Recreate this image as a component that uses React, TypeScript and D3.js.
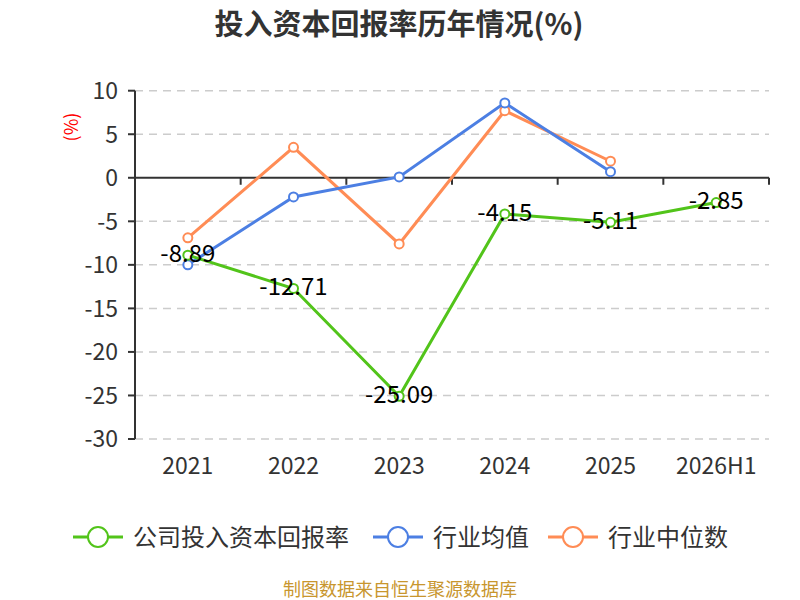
import { useEffect, useRef } from "react";
import * as d3 from "d3";

const years = ["2021", "2022", "2023", "2024", "2025", "2026H1"];
const company = [-8.89, -12.71, -25.09, -4.15, -5.11, -2.85];
const industryAvg = [-10.0, -2.2, 0.1, 8.6, 0.7];
const industryMedian = [-6.9, 3.5, -7.6, 7.7, 1.9];
const yTicks = [10, 5, 0, -5, -10, -15, -20, -25, -30];

const seriesNames = ["公司投入资本回报率", "行业均值", "行业中位数"];
const colors = ["#52c41a", "#4c7fe3", "#ff8c55"];

const FONT = "'Noto Sans CJK SC', 'Noto Sans', sans-serif";

export default function App() {
    const svgRef = useRef<SVGSVGElement>(null);

    useEffect(() => {
        if (!svgRef.current) return;
        const svg = d3.select(svgRef.current);
        svg.selectAll("*").remove();

        const left = 135, right = 769, top = 90.7, bottom = 439;
        const x = d3.scaleBand().domain(years).range([left, right]);
        const y = d3.scaleLinear().domain([-30, 10]).range([bottom, top]);
        const cx = (i: number) => x(years[i])! + x.bandwidth() / 2;

        // title
        svg.append("text").attr("x", 399).attr("y", 35).attr("text-anchor", "middle")
            .attr("font-family", FONT).attr("font-size", "29px").attr("font-weight", "bold").attr("fill", "#333")
            .text("投入资本回报率历年情况(%)");

        // gridlines
        yTicks.filter(t => t !== 0).forEach(t => {
            svg.append("line").attr("x1", left).attr("x2", right).attr("y1", y(t)).attr("y2", y(t))
                .attr("stroke", "#ccc").attr("stroke-width", 1.5).attr("stroke-dasharray", "8,6");
        });

        // y axis
        svg.append("line").attr("x1", left).attr("x2", left).attr("y1", top).attr("y2", bottom)
            .attr("stroke", "#333").attr("stroke-width", 2);
        yTicks.forEach(t => {
            svg.append("line").attr("x1", left - 7).attr("x2", left).attr("y1", y(t)).attr("y2", y(t))
                .attr("stroke", "#333").attr("stroke-width", 2);
            svg.append("text").attr("x", left - 17).attr("y", y(t)).attr("dy", "0.36em").attr("text-anchor", "end")
                .attr("font-family", FONT).attr("font-size", "23px").attr("fill", "#333").text(String(t));
        });
        svg.append("text").attr("transform", `translate(78,127) rotate(-90)`).attr("text-anchor", "middle")
            .attr("font-family", FONT).attr("font-size", "18px").attr("fill", "#f00").text("(%)");

        // x axis at zero
        svg.append("line").attr("x1", left).attr("x2", right).attr("y1", y(0)).attr("y2", y(0))
            .attr("stroke", "#333").attr("stroke-width", 2);
        years.forEach((yr, i) => {
            const xr = x(yr)! + x.bandwidth();
            svg.append("line").attr("x1", xr).attr("x2", xr).attr("y1", y(0)).attr("y2", y(0) + 7)
                .attr("stroke", "#333").attr("stroke-width", 2);
            svg.append("text").attr("x", cx(i)).attr("y", 474).attr("text-anchor", "middle")
                .attr("font-family", FONT).attr("font-size", "23px").attr("fill", "#333").text(yr);
        });

        const line = d3.line<number>().x((_, i) => cx(i)).y(d => y(d));
        const drawSeries = (vals: number[], color: string) => {
            svg.append("path").attr("d", line(vals)).attr("fill", "none")
                .attr("stroke", color).attr("stroke-width", 3);
            vals.forEach((v, i) => {
                svg.append("circle").attr("cx", cx(i)).attr("cy", y(v)).attr("r", 4.5)
                    .attr("fill", "#fff").attr("stroke", color).attr("stroke-width", 2);
            });
        };
        drawSeries(industryMedian, colors[2]);
        drawSeries(industryAvg, colors[1]);
        drawSeries(company, colors[0]);

        company.forEach((v, i) => {
            svg.append("text").attr("x", cx(i)).attr("y", y(v) - 2).attr("dy", "0.36em").attr("text-anchor", "middle")
                .attr("font-family", FONT).attr("font-size", "24px").attr("fill", "#000").text(v.toFixed(2));
        });

        // legend
        const legendX = [73, 373, 548];
        seriesNames.forEach((name, i) => {
            const lx = legendX[i], ly = 537;
            svg.append("line").attr("x1", lx).attr("x2", lx + 50).attr("y1", ly).attr("y2", ly)
                .attr("stroke", colors[i]).attr("stroke-width", 3);
            svg.append("circle").attr("cx", lx + 25).attr("cy", ly).attr("r", 10)
                .attr("fill", "#fff").attr("stroke", colors[i]).attr("stroke-width", 2);
            svg.append("text").attr("x", lx + 60).attr("y", ly).attr("dy", "0.36em")
                .attr("font-family", FONT).attr("font-size", "24px").attr("fill", "#333").text(name);
        });

        svg.append("text").attr("x", 400).attr("y", 590).attr("dy", "0.36em").attr("text-anchor", "middle")
            .attr("font-family", FONT).attr("font-size", "18px").attr("fill", "#c8962e")
            .text("制图数据来自恒生聚源数据库");
    }, []);

    return (
        <svg ref={svgRef} width={800} height={600}
            style={{ position: "absolute", left: 0, top: 0, background: "#fff" }} />
    );
}
